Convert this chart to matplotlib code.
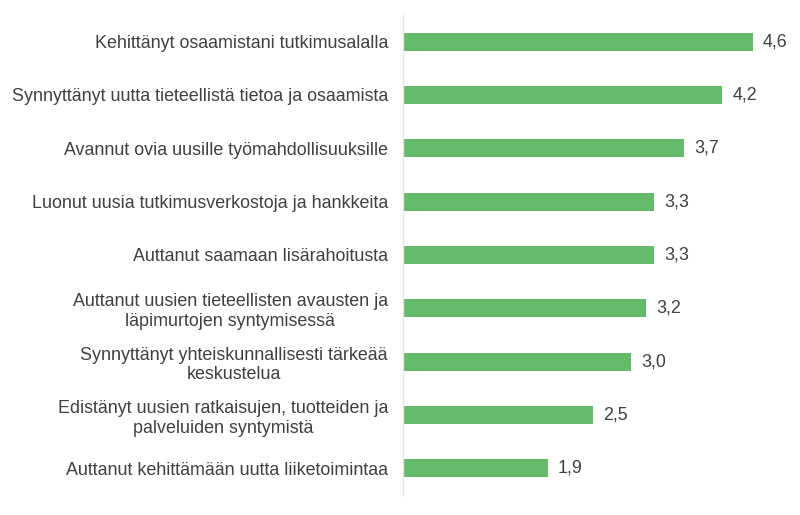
import matplotlib.pyplot as plt

# Categories (top to bottom) and mean scores
categories = [
    "Kehittänyt osaamistani tutkimusalalla",
    "Synnyttänyt uutta tieteellistä tietoa ja osaamista",
    "Avannut ovia uusille työmahdollisuuksille",
    "Luonut uusia tutkimusverkostoja ja hankkeita",
    "Auttanut saamaan lisärahoitusta",
    "Auttanut uusien tieteellisten avausten ja\nläpimurtojen syntymisessä",
    "Synnyttänyt yhteiskunnallisesti tärkeää\nkeskustelua",
    "Edistänyt uusien ratkaisujen, tuotteiden ja\npalveluiden syntymistä",
    "Auttanut kehittämään uutta liiketoimintaa",
]
values = [4.6, 4.2, 3.7, 3.3, 3.3, 3.2, 3.0, 2.5, 1.9]

plt.rcParams['font.family'] = ['Liberation Sans', 'DejaVu Sans']
text_color = '#404040'

fig = plt.figure(figsize=(8, 5.15), dpi=100)
ax = fig.add_axes([0.504, 0.039, 0.475, 0.932])

y = range(len(categories))
bars = ax.barh(y, values, height=0.34, color='#66BB6A')
ax.set_ylim(len(categories) - 0.5, -0.5)
ax.set_xlim(0, 5)

for b, v in zip(bars, values):
    ax.text(b.get_width() + 0.13, b.get_y() + b.get_height() / 2,
            f"{v:.1f}".replace('.', ','), va='center', ha='left',
            fontsize=12.9, color=text_color)

ax.set_yticks(list(y))
ax.set_yticklabels(categories, fontsize=12.9, color=text_color)
ax.tick_params(axis='y', length=0, pad=11)
ax.set_xticks([])
for lab in ax.get_yticklabels():
    lab.set_multialignment('center')
    lab.set_linespacing(1.2)

for s in ['top', 'right', 'bottom']:
    ax.spines[s].set_visible(False)
ax.spines['left'].set_color('#e6e6e6')
ax.spines['left'].set_linewidth(1)

fig.savefig('out.png', dpi=100)
